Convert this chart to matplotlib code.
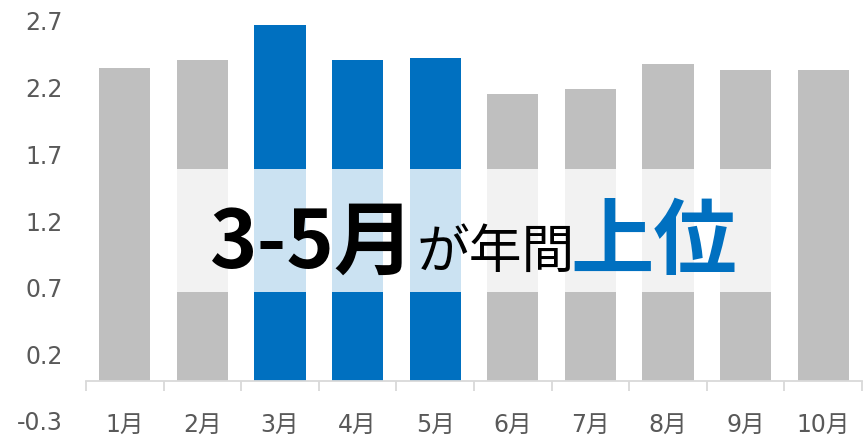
import matplotlib
matplotlib.use('Agg')
import matplotlib.pyplot as plt
from matplotlib.patches import Rectangle

months = ['1月', '2月', '3月', '4月', '5月', '6月', '7月', '8月', '9月', '10月']
values = [2.35, 2.41, 2.67, 2.41, 2.425, 2.15, 2.19, 2.38, 2.33, 2.335]
highlight = ['3月', '4月', '5月']
yticks = [-0.3, 0.2, 0.7, 1.2, 1.7, 2.2, 2.7]

GRAY = '#BFBFBF'
BLUE = '#0070C0'
TICK_COLOR = '#595959'
CJK = ['Noto Sans CJK JP', 'DejaVu Sans']

plt.rcParams['font.family'] = ['DejaVu Sans', 'Noto Sans CJK JP']

fig = plt.figure(figsize=(8.64, 4.38), dpi=100)
ax = fig.add_axes([86 / 864, 17 / 438, 776 / 864, 400 / 438])

x = list(range(len(months)))
colors = [BLUE if m in highlight else GRAY for m in months]
ax.bar(x, values, width=0.66, color=colors, zorder=2)

# white translucent band over the middle of the bars
band = Rectangle((0.5, 0.667), 8.0, 0.92, facecolor='white', alpha=0.8,
                 edgecolor='none', zorder=3)
ax.add_patch(band)

ax.set_xlim(-0.5, len(months) - 0.5)
ax.set_ylim(-0.3, 2.7)

# y axis: labels only
ax.set_yticks(yticks)
ax.set_yticklabels([f'{v:.1f}' for v in yticks])
ax.tick_params(axis='y', length=0, pad=17, labelsize=17, labelcolor=TICK_COLOR)

# x axis at zero, tick marks between categories
ax.spines['bottom'].set_position(('data', 0))
ax.spines['bottom'].set_color('#D9D9D9')
ax.spines['bottom'].set_linewidth(1.3)
for s in ['top', 'right', 'left']:
    ax.spines[s].set_visible(False)
ax.set_xticks([i - 0.5 for i in range(len(months) + 1)])
ax.set_xticklabels([])
ax.tick_params(axis='x', which='major', length=7, width=1.3, color='#D9D9D9')
ax.set_xticks(x, minor=True)
ax.set_xticklabels(months, minor=True)
ax.tick_params(axis='x', which='minor', length=0, pad=23, labelsize=17,
               labelcolor=TICK_COLOR)

# headline text
ax.text(1.1, 0.85, '3-5月', fontsize=58, fontweight='bold', color='black',
        family=CJK, ha='left', va='baseline', zorder=4)
ax.text(3.76, 0.85, 'が年間', fontsize=38, color='black',
        family=CJK, ha='left', va='baseline', zorder=4)
ax.text(5.74, 0.85, '上位', fontsize=60, fontweight='bold', color=BLUE,
        family=CJK, ha='left', va='baseline', zorder=4)

plt.savefig('out.png', dpi=100)
